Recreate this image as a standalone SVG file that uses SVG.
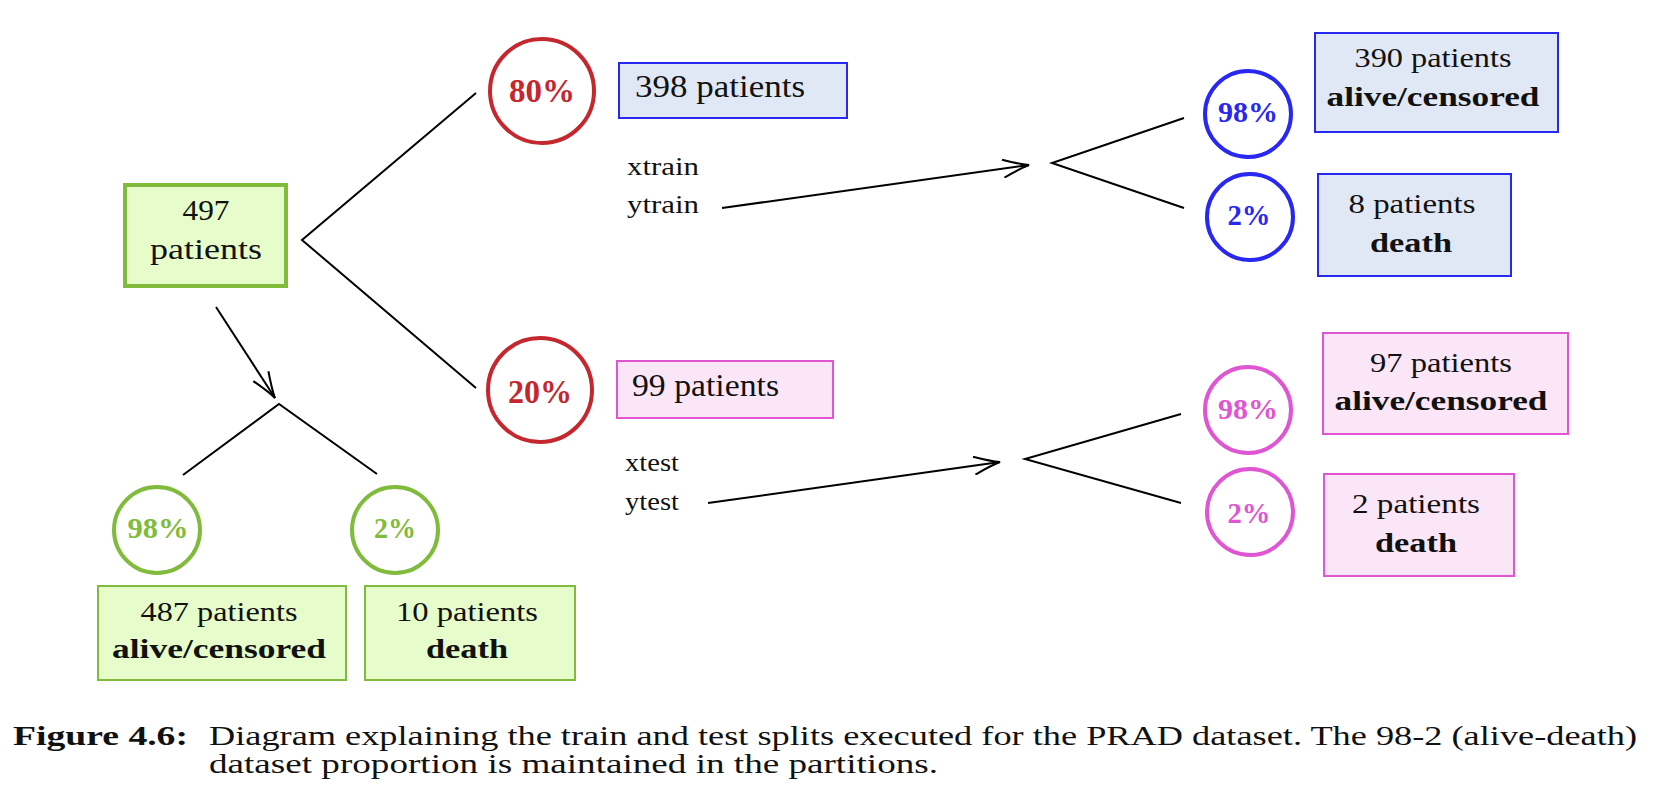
<svg xmlns="http://www.w3.org/2000/svg" width="1658" height="812" viewBox="0 0 1658 812">
<style>
.t{font-family:'Liberation Serif',serif;fill:#111}
.lbl{font-size:28px}
.big{font-size:31px}
.sm{font-size:25px}
.b{font-weight:bold}
.mid{text-anchor:middle}
.pct{font-weight:bold;font-size:30px;text-anchor:middle}
.pctL{font-weight:bold;font-size:33px;text-anchor:middle}
.conn{fill:none;stroke:#000;stroke-width:2}
.gbox{fill:#e6fccb;stroke:#80bb3c;stroke-width:2}
.bbox{fill:#e1e8f5;stroke:#2828f0;stroke-width:2}
.pbox{fill:#fbe6f8;stroke:#e055d2;stroke-width:2}
.gc{fill:#fff;stroke:#80bb3c;stroke-width:4}
.rc{fill:#fff;stroke:#c4282e;stroke-width:4}
.bc{fill:#fff;stroke:#2828f0;stroke-width:4}
.pc{fill:#fff;stroke:#e055d2;stroke-width:4}
.gt{fill:#80bb3c}.rt{fill:#c4282e}.bt{fill:#2828f0}.pt{fill:#e055d2}
</style>
<defs>
<marker id="arr" viewBox="0 0 30 20" markerWidth="30" markerHeight="20" refX="28" refY="10" orient="auto" markerUnits="userSpaceOnUse">
<path d="M2,1 Q19,8 28,10 Q19,12 2,19" fill="none" stroke="#000" stroke-width="2"/>
</marker>
</defs>
<rect width="1658" height="812" fill="#fff"/>
<g id="connectors">
<polyline class="conn" points="476,93 302,240 476,388"/>
<polyline class="conn" points="183,475 279,404 377,474"/>
<polyline class="conn" points="1184,118 1052,163 1184,208"/>
<polyline class="conn" points="1181,414 1025,459 1181,503"/>
<line class="conn" x1="216" y1="307" x2="275" y2="398" marker-end="url(#arr)"/>
<line class="conn" x1="722" y1="208" x2="1029" y2="165" marker-end="url(#arr)"/>
<line class="conn" x1="708" y1="503" x2="1000" y2="462" marker-end="url(#arr)"/>
</g>
<g id="n497">
<rect x="125" y="185" width="161" height="101" fill="#e6fccb" stroke="#80bb3c" stroke-width="4"/>
<text class="t mid" font-family="Liberation Serif" font-size="30" x="206" y="220" textLength="47" lengthAdjust="spacingAndGlyphs">497</text>
<text class="t mid" font-family="Liberation Serif" font-size="30" x="206" y="259" textLength="112" lengthAdjust="spacingAndGlyphs">patients</text>
</g>
<g id="n80">
<circle class="rc" cx="542" cy="91" r="52"/>
<text class="t pctL rt" font-family="Liberation Serif" x="542" y="102" textLength="66" lengthAdjust="spacingAndGlyphs">80%</text>
</g>
<g id="n20">
<circle class="rc" cx="540" cy="390" r="52"/>
<text class="t pctL rt" font-family="Liberation Serif" x="540" y="403" textLength="64" lengthAdjust="spacingAndGlyphs">20%</text>
</g>
<g id="g98">
<circle class="gc" cx="157" cy="530" r="43"/>
<text class="t pct gt" font-family="Liberation Serif" x="158" y="538" textLength="61" lengthAdjust="spacingAndGlyphs">98%</text>
</g>
<g id="g2">
<circle class="gc" cx="395" cy="530" r="43"/>
<text class="t pct gt" font-family="Liberation Serif" x="395" y="538" textLength="42" lengthAdjust="spacingAndGlyphs">2%</text>
</g>
<g id="g487">
<rect class="gbox" x="98" y="586" width="248" height="94"/>
<text class="t lbl mid" font-family="Liberation Serif" x="219" y="621" textLength="157" lengthAdjust="spacingAndGlyphs">487 patients</text>
<text class="t lbl mid b" font-family="Liberation Serif" x="219" y="658" textLength="214" lengthAdjust="spacingAndGlyphs">alive/censored</text>
</g>
<g id="g10">
<rect class="gbox" x="365" y="586" width="210" height="94"/>
<text class="t lbl mid" font-family="Liberation Serif" x="467" y="621" textLength="142" lengthAdjust="spacingAndGlyphs">10 patients</text>
<text class="t lbl mid b" font-family="Liberation Serif" x="467" y="658" textLength="82" lengthAdjust="spacingAndGlyphs">death</text>
</g>
<g id="train">
<rect class="bbox" x="619" y="63" width="228" height="55"/>
<text class="t big" font-family="Liberation Serif" x="635" y="97" textLength="170" lengthAdjust="spacingAndGlyphs">398 patients</text>
<text class="t sm" font-family="Liberation Serif" x="627" y="175" textLength="72" lengthAdjust="spacingAndGlyphs">xtrain</text>
<text class="t sm" font-family="Liberation Serif" x="627" y="213" textLength="72" lengthAdjust="spacingAndGlyphs">ytrain</text>
</g>
<g id="test">
<rect class="pbox" x="617" y="361" width="216" height="57"/>
<text class="t big" font-family="Liberation Serif" x="632" y="396" textLength="147" lengthAdjust="spacingAndGlyphs">99 patients</text>
<text class="t sm" font-family="Liberation Serif" x="625" y="471" textLength="54" lengthAdjust="spacingAndGlyphs">xtest</text>
<text class="t sm" font-family="Liberation Serif" x="625" y="510" textLength="54" lengthAdjust="spacingAndGlyphs">ytest</text>
</g>
<g id="b98">
<circle class="bc" cx="1248" cy="114" r="43"/>
<text class="t pct bt" font-family="Liberation Serif" x="1248" y="122" textLength="60" lengthAdjust="spacingAndGlyphs">98%</text>
</g>
<g id="b2">
<circle class="bc" cx="1250" cy="217" r="43"/>
<text class="t pct bt" font-family="Liberation Serif" x="1249" y="225" textLength="43" lengthAdjust="spacingAndGlyphs">2%</text>
</g>
<g id="b390">
<rect class="bbox" x="1315" y="33" width="243" height="99"/>
<text class="t lbl mid" font-family="Liberation Serif" x="1433" y="67" textLength="157" lengthAdjust="spacingAndGlyphs">390 patients</text>
<text class="t lbl mid b" font-family="Liberation Serif" x="1433" y="106" textLength="213" lengthAdjust="spacingAndGlyphs">alive/censored</text>
</g>
<g id="b8">
<rect class="bbox" x="1318" y="174" width="193" height="102"/>
<text class="t lbl mid" font-family="Liberation Serif" x="1412" y="213" textLength="127" lengthAdjust="spacingAndGlyphs">8 patients</text>
<text class="t lbl mid b" font-family="Liberation Serif" x="1411" y="252" textLength="82" lengthAdjust="spacingAndGlyphs">death</text>
</g>
<g id="p98">
<circle class="pc" cx="1248" cy="410" r="43"/>
<text class="t pct pt" font-family="Liberation Serif" x="1248" y="419" textLength="60" lengthAdjust="spacingAndGlyphs">98%</text>
</g>
<g id="p2">
<circle class="pc" cx="1250" cy="512" r="43"/>
<text class="t pct pt" font-family="Liberation Serif" x="1249" y="523" textLength="43" lengthAdjust="spacingAndGlyphs">2%</text>
</g>
<g id="p97">
<rect class="pbox" x="1323" y="333" width="245" height="101"/>
<text class="t lbl mid" font-family="Liberation Serif" x="1441" y="372" textLength="142" lengthAdjust="spacingAndGlyphs">97 patients</text>
<text class="t lbl mid b" font-family="Liberation Serif" x="1441" y="410" textLength="213" lengthAdjust="spacingAndGlyphs">alive/censored</text>
</g>
<g id="p2box">
<rect class="pbox" x="1324" y="474" width="190" height="102"/>
<text class="t lbl mid" font-family="Liberation Serif" x="1416" y="513" textLength="128" lengthAdjust="spacingAndGlyphs">2 patients</text>
<text class="t lbl mid b" font-family="Liberation Serif" x="1416" y="552" textLength="82" lengthAdjust="spacingAndGlyphs">death</text>
</g>
<g id="caption">
<text class="t" font-family="Liberation Serif" font-size="28" font-weight="bold" x="13" y="745" textLength="175" lengthAdjust="spacingAndGlyphs">Figure 4.6:</text>
<text class="t" font-family="Liberation Serif" font-size="28" x="209" y="745" textLength="1428" lengthAdjust="spacingAndGlyphs">Diagram explaining the train and test splits executed for the PRAD dataset.  The 98-2 (alive-death)</text>
<text class="t" font-family="Liberation Serif" font-size="28" x="209" y="773" textLength="729" lengthAdjust="spacingAndGlyphs">dataset proportion is maintained in the partitions.</text>
</g>
</svg>
